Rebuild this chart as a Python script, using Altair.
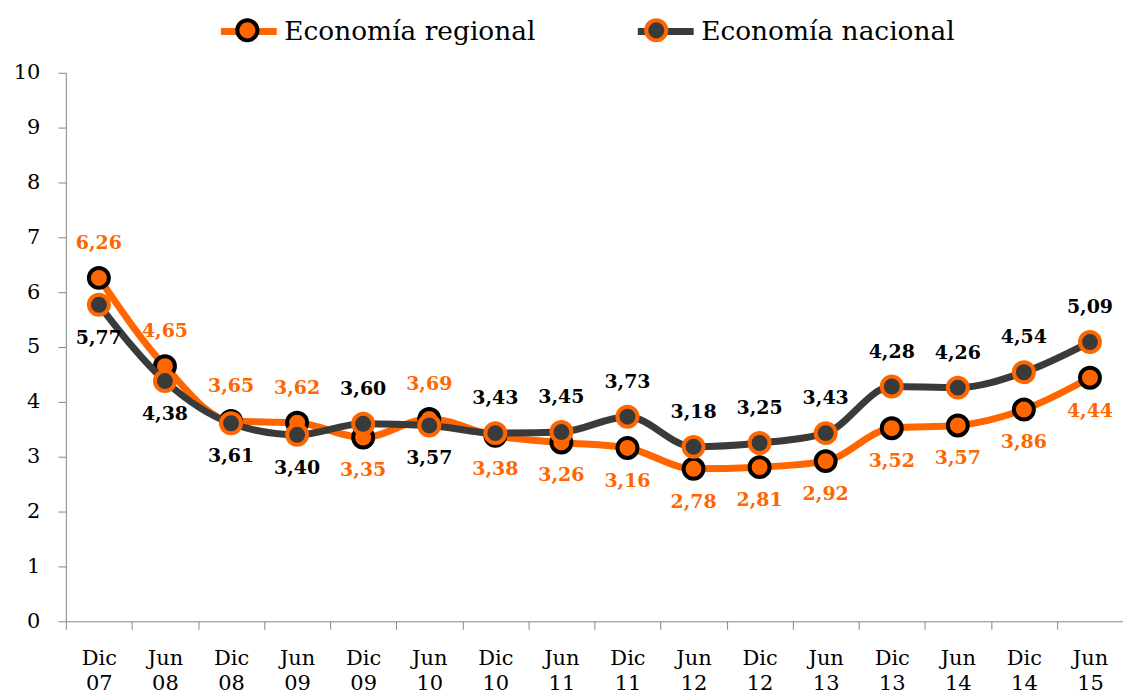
import altair as alt
import pandas as pd

categories = ["Dic 07", "Jun 08", "Dic 08", "Jun 09", "Dic 09", "Jun 10", "Dic 10", "Jun 11",
              "Dic 11", "Jun 12", "Dic 12", "Jun 13", "Dic 13", "Jun 14", "Dic 14", "Jun 15"]
regional = [6.26, 4.65, 3.65, 3.62, 3.35, 3.69, 3.38, 3.26, 3.16, 2.78, 2.81, 2.92, 3.52, 3.57, 3.86, 4.44]
nacional = [5.77, 4.38, 3.61, 3.40, 3.60, 3.57, 3.43, 3.45, 3.73, 3.18, 3.25, 3.43, 4.28, 4.26, 4.54, 5.09]
series_names = ["Economía regional", "Economía nacional"]
# second key per series (trailing space) so the marker legend is kept apart from the line legend
series_keys2 = [s + " " for s in series_names]

ORANGE = "#FF6600"
DARK = "#3A3A3A"
FONT = "DejaVu Serif"

rows = []
for i, c in enumerate(categories):
    r, n = regional[i], nacional[i]
    rows.append(dict(cat=c, serie=series_names[0], serie2=series_keys2[0], v=r,
                     lab=f"{r:.2f}".replace(".", ","), pos="above" if r >= n else "below"))
    rows.append(dict(cat=c, serie=series_names[1], serie2=series_keys2[1], v=n,
                     lab=f"{n:.2f}".replace(".", ","), pos="above" if n > r else "below"))
df = pd.DataFrame(rows)

W, H = 1060, 550
step = W / len(categories)

x = alt.X("cat:N", sort=categories,
          scale=alt.Scale(type="point", padding=0.5),
          axis=alt.Axis(title=None, labelAngle=0, labelExpr="split(datum.label, ' ')",
                        labelFont=FONT, labelFontSize=21, labelColor="black",
                        labelLineHeight=25, labelPadding=18, tickSize=8,
                        tickOffset=-step / 2, labelOffset=step / 2,
                        domainColor="#868686", tickColor="#868686", grid=False))
y = alt.Y("v:Q", scale=alt.Scale(domain=[0, 10], nice=False),
          axis=alt.Axis(title=None, values=list(range(11)), grid=False, tickSize=8,
                        labelFont=FONT, labelFontSize=21, labelColor="black", labelPadding=18,
                        domainColor="#868686", tickColor="#868686"))

LX, LY = 152, -73
LFS = 26.5
COLPAD = 87

common = dict(title=None, orient="none", legendX=LX, legendY=LY, direction="horizontal",
              symbolSize=3136, labelFont=FONT, labelFontSize=LFS, labelColor="black",
              labelLimit=500, labelOffset=4, columnPadding=COLPAD, padding=0, symbolOpacity=1)

color = alt.Color("serie:N", scale=alt.Scale(domain=series_names, range=[ORANGE, DARK]),
                  legend=alt.Legend(symbolType="stroke", symbolStrokeWidth=7, **common))
circle_path = ("M-1,0M1,0M-0.36,0A0.36,0.36,0,1,0,0.36,0A0.36,0.36,0,1,0,-0.36,0Z")
fill = alt.Fill("serie2:N", scale=alt.Scale(domain=series_keys2, range=[ORANGE, DARK]),
                legend=alt.Legend(symbolType=circle_path, symbolStrokeWidth=4,
                                  labelOpacity=0, labelExpr="trim(datum.label)", **common))
stroke = alt.Stroke("serie2:N", scale=alt.Scale(domain=series_keys2, range=["black", ORANGE]),
                    legend=None)

base = alt.Chart(df)

def line_layer(name):
    return base.transform_filter(alt.datum.serie == name).mark_line(
        strokeWidth=7, interpolate="monotone").encode(x=x, y=y, color=color)

def point_layer(name):
    return base.transform_filter(alt.datum.serie == name).mark_point(
        filled=True, size=400, strokeWidth=4, opacity=1).encode(x=x, y=y, fill=fill, stroke=stroke)

label_color = alt.condition(alt.datum.serie == series_names[0], alt.value(ORANGE), alt.value("black"))
above = base.transform_filter(alt.datum.pos == "above").mark_text(
    font=FONT, fontSize=19, fontWeight="bold", dy=-35, baseline="middle").encode(
    x=x, y=y, text="lab:N", color=label_color)
below = base.transform_filter(alt.datum.pos == "below").mark_text(
    font=FONT, fontSize=19, fontWeight="bold", dy=33, baseline="middle").encode(
    x=x, y=y, text="lab:N", color=label_color)

chart = alt.layer(
    line_layer(series_names[0]), point_layer(series_names[0]),
    line_layer(series_names[1]), point_layer(series_names[1]),
    above, below
).properties(
    width=W, height=H,
    autosize=alt.AutoSizeParams(type="none"),
    padding={"left": 58, "top": 64, "right": 0, "bottom": 74},
).configure_view(stroke=None)

chart.save("out.html", embed_options={"renderer": "svg", "actions": False})
